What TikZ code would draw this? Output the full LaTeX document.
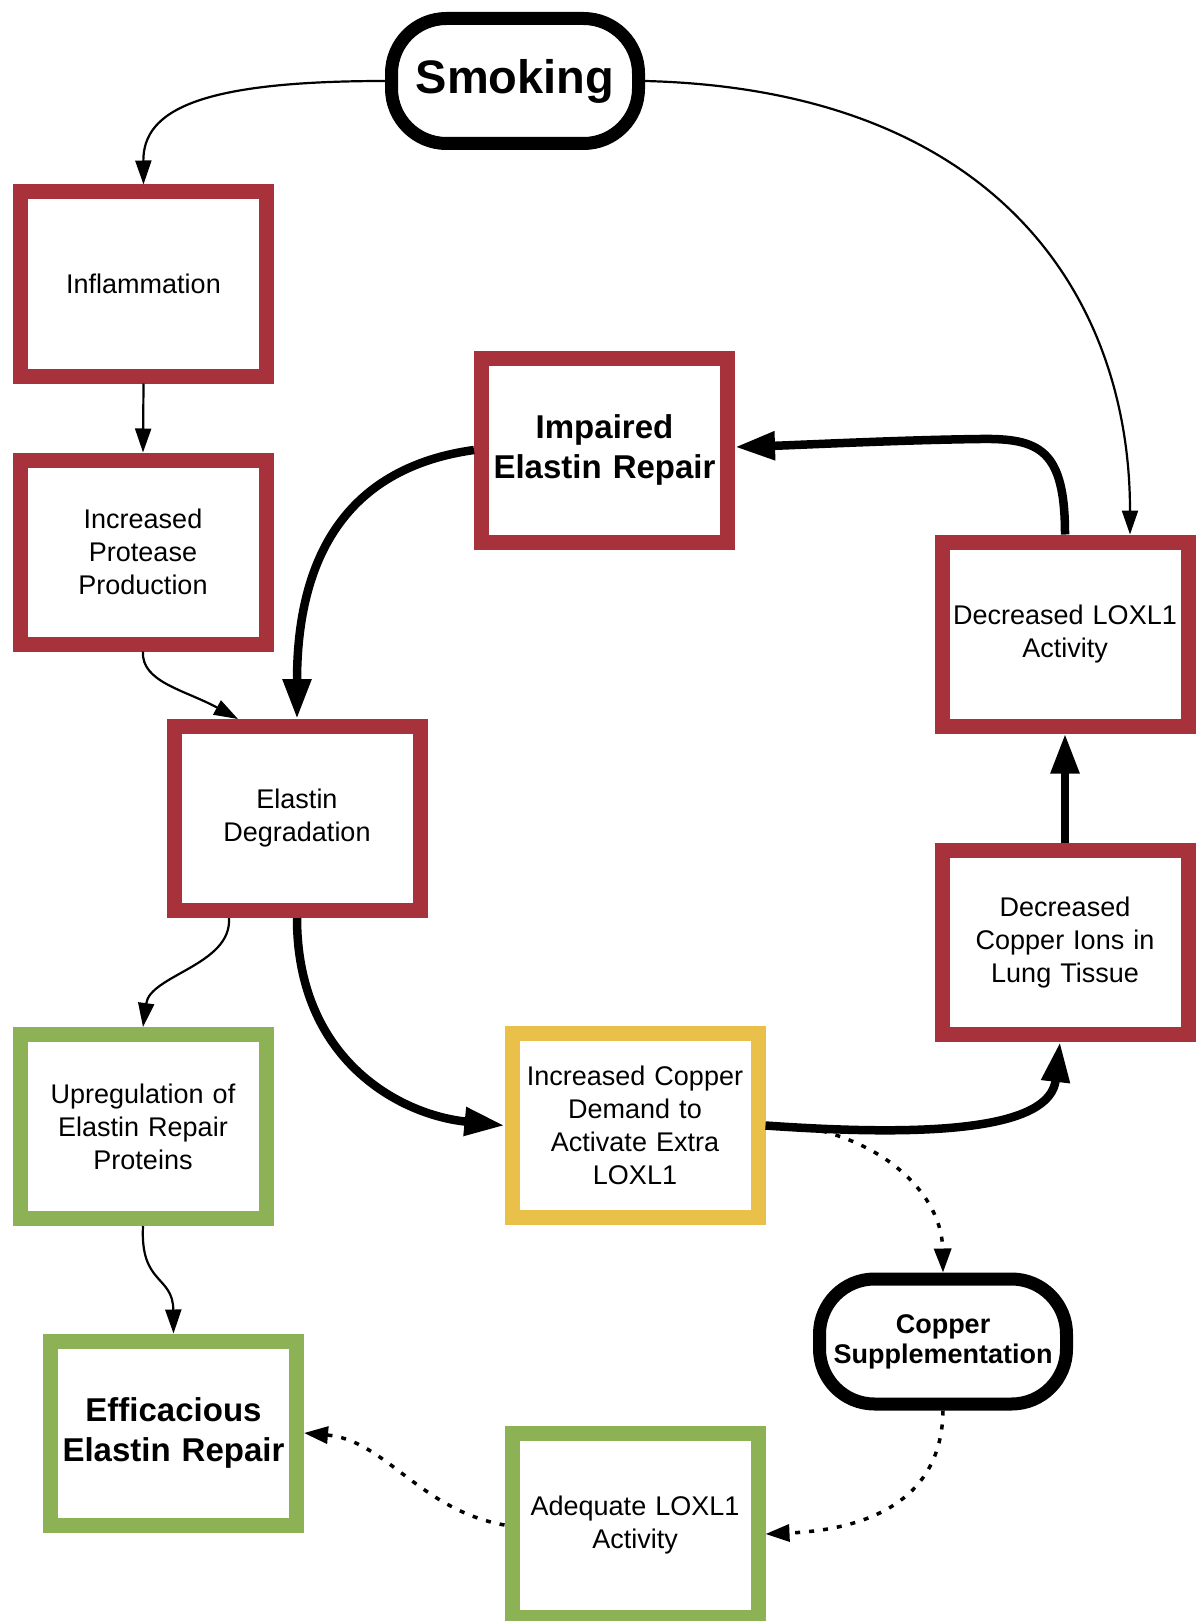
\documentclass[tikz,border=0pt]{standalone}
\usepackage{fontspec}
\setmainfont{Liberation Sans}
\usetikzlibrary{arrows.meta}
\definecolor{boxred}{RGB}{168,50,60}
\definecolor{boxgreen}{RGB}{141,178,85}
\definecolor{boxyellow}{RGB}{233,193,74}
\begin{document}
\begin{tikzpicture}[x=1pt,y=-1pt,
  box/.style={draw, line width=15pt, minimum width=246pt, minimum height=184pt,
    inner sep=0pt, text width=240pt, align=center, fill=white,
    font=\fontsize{27}{33}\selectfont},
  redbox/.style={box, draw=boxred},
  greenbox/.style={box, draw=boxgreen},
  yellowbox/.style={box, draw=boxyellow},
  boldtext/.style={font=\fontsize{33}{40}\selectfont\bfseries},
  pill/.style={draw=black, line width=13pt, rounded corners=55pt,
    minimum width=247pt, minimum height=125pt, inner sep=0pt, align=center, fill=white},
  thinarrow/.style={line width=2.2pt, -{Triangle[length=24pt,width=16pt]}},
  thickarrow/.style={line width=8.5pt, -{Triangle[length=40pt,width=27pt]}},
  dotarrow/.style={line width=3.5pt, dash pattern=on 5pt off 9pt, -{Triangle[length=24pt,width=17pt]}},
]
\fill[white] (0,0) rectangle (1195,1621);
\useasboundingbox (0,0) rectangle (1195,1621);

% nodes
\node[pill, font=\fontsize{47}{56}\selectfont\bfseries] (smoke) at (515,81) {Smoking};
\node[redbox] (infl) at (143.5,284) {Inflammation};
\node[redbox] (prot) at (143,552) {Increased\\Protease\\Production};
\node[redbox, boldtext] (imp) at (604.5,450) {Impaired\\Elastin Repair};
\node[redbox] (loxl) at (1065,634) {Decreased LOXL1\\Activity};
\node[redbox] (eld) at (297,818.5) {Elastin\\Degradation};
\node[redbox] (cio) at (1065,942.5) {Decreased\\Copper Ions in\\Lung Tissue};
\node[greenbox] (upr) at (143,1126.5) {Upregulation of\\Elastin Repair\\Proteins};
\node[yellowbox] (yel) at (635,1125.5) {Increased Copper\\Demand to\\Activate Extra\\LOXL1};
\node[greenbox, boldtext] (eff) at (173.5,1433) {Efficacious\\Elastin Repair};
\node[greenbox] (adq) at (635,1525) {Adequate LOXL1\\Activity};
\node[pill, font=\fontsize{27}{30}\selectfont\bfseries] (sup) at (943,1341.5) {Copper\\Supplementation};
\coordinate (br) at (822,1131);

% thin connectors
\draw[thinarrow] (smoke.west) .. controls (200,81) and (143,110) .. (infl.north);
\draw[thinarrow] (smoke.east) .. controls (1000,90) and (1130,300) .. ([xshift=65pt]loxl.north);
\draw[thinarrow] (infl.south) -- (prot.north);
\draw[thinarrow] (prot.south) .. controls (141,682) and (185,690) .. ([xshift=-59pt]eld.north);
\draw[thinarrow] ([xshift=-68pt]eld.south) .. controls (232,965) and (150,975) .. (upr.north);
\draw[thinarrow] (upr.south) .. controls (140,1285) and (173,1275) .. (eff.north);

% thick connectors
\draw[thickarrow] (imp.west) .. controls (330,470) and (297,580) .. (eld.north);
\draw[thickarrow] (loxl.north) .. controls (1065,450) and (1040,438) .. (980,439)
  .. controls (900,440) and (800,445) .. ([yshift=3pt]imp.east);
\draw[thickarrow] (cio.north) -- (loxl.south);
\draw[thickarrow] (eld.south) .. controls (297,1060) and (400,1115) .. (yel.west);
\draw[thickarrow] (yel.east) .. controls (930,1137) and (1050,1130) .. ([xshift=-5pt]cio.south);

% dotted connectors
\draw[dotarrow] (br) .. controls (895,1150) and (942,1200) .. (sup.north);
\draw[dotarrow] (sup.south) .. controls (942,1505) and (860,1530) .. ([yshift=-9pt]adq.east);
\draw[dotarrow] (adq.west) .. controls (420,1510) and (385,1440) .. (eff.east);
\end{tikzpicture}
\end{document}
